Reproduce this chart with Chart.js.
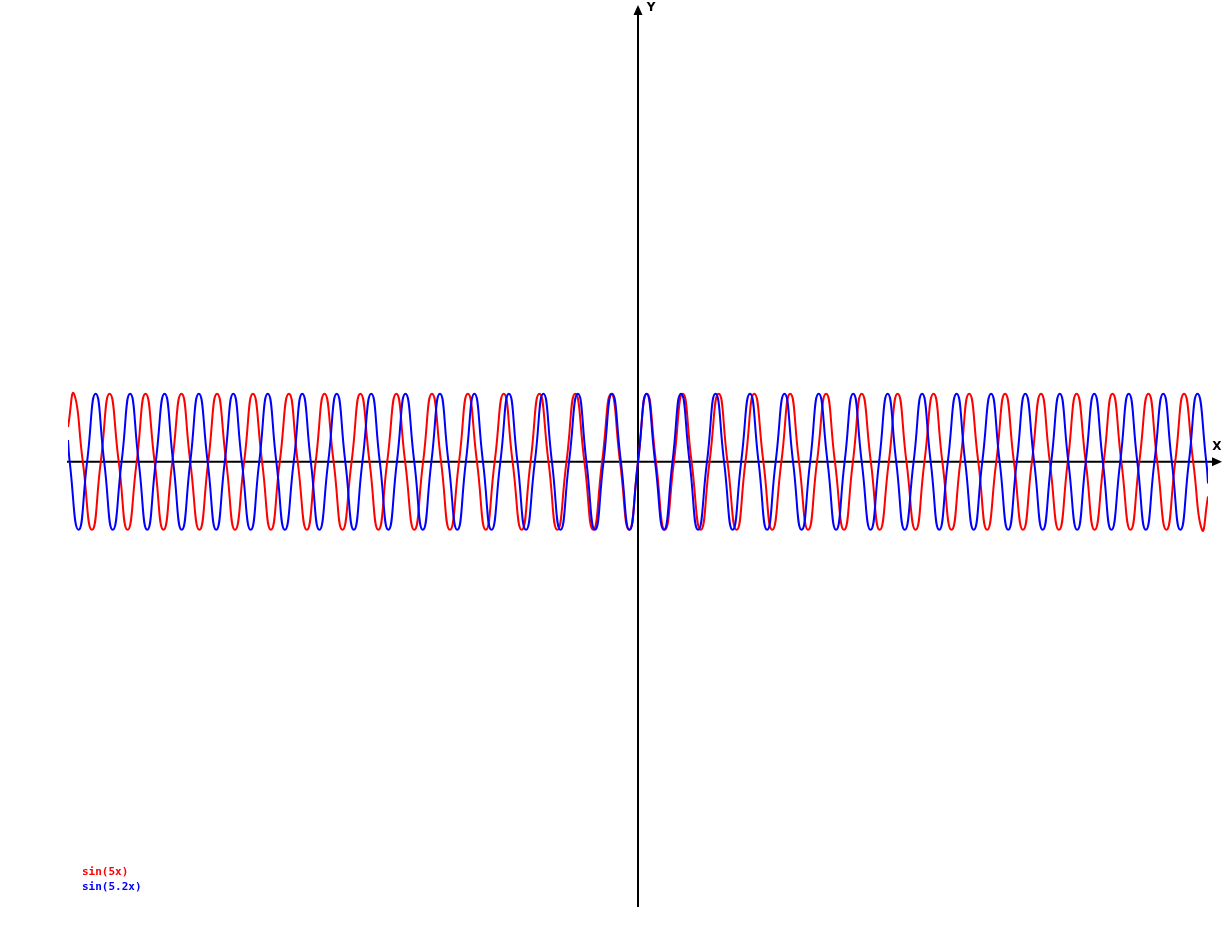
<!DOCTYPE html>
<html>
<head>
<meta charset="utf-8">
<script src="https://cdn.jsdelivr.net/npm/chart.js@4.4.1/dist/chart.umd.min.js"></script>
<style>
  body { margin: 0; background: #fff; }
  #wrap { width: 1230px; height: 927px; }
</style>
</head>
<body>
<div id="wrap"><canvas id="plot" width="1230" height="927"></canvas></div>
<script>
// sin(5x): quarter-period points (peaks, zeros, troughs) plus the two ends
const redX = [-20,
    -19.79, -19.48, -19.16, -18.85, -18.54, -18.22, -17.91, -17.59, -17.28, -16.96, -16.65, -16.34, -16.02, -15.71, -15.39, -15.08,
    -14.77, -14.45, -14.14, -13.82, -13.51, -13.19, -12.88, -12.57, -12.25, -11.94, -11.62, -11.31, -11.00, -10.68, -10.37, -10.05,
    -9.74, -9.42, -9.11, -8.80, -8.48, -8.17, -7.85, -7.54, -7.23, -6.91, -6.60, -6.28, -5.97, -5.65, -5.34, -5.03,
    -4.71, -4.40, -4.08, -3.77, -3.46, -3.14, -2.83, -2.51, -2.20, -1.88, -1.57, -1.26, -0.94, -0.63, -0.31,
    0,
    0.31, 0.63, 0.94, 1.26, 1.57, 1.88, 2.20, 2.51, 2.83, 3.14, 3.46, 3.77, 4.08, 4.40, 4.71,
    5.03, 5.34, 5.65, 5.97, 6.28, 6.60, 6.91, 7.23, 7.54, 7.85, 8.17, 8.48, 8.80, 9.11, 9.42, 9.74,
    10.05, 10.37, 10.68, 11.00, 11.31, 11.62, 11.94, 12.25, 12.57, 12.88, 13.19, 13.51, 13.82, 14.14, 14.45, 14.77,
    15.08, 15.39, 15.71, 16.02, 16.34, 16.65, 16.96, 17.28, 17.59, 17.91, 18.22, 18.54, 18.85, 19.16, 19.48, 19.79,
    20];
const redY = [0.51,
    1, 0, -1, 0, 1, 0, -1, 0, 1, 0, -1, 0, 1, 0, -1, 0,
    1, 0, -1, 0, 1, 0, -1, 0, 1, 0, -1, 0, 1, 0, -1, 0,
    1, 0, -1, 0, 1, 0, -1, 0, 1, 0, -1, 0, 1, 0, -1, 0,
    1, 0, -1, 0, 1, 0, -1, 0, 1, 0, -1, 0, 1, 0, -1, 0,
    1, 0, -1, 0, 1, 0, -1, 0, 1, 0, -1, 0, 1, 0, -1, 0,
    1, 0, -1, 0, 1, 0, -1, 0, 1, 0, -1, 0, 1, 0, -1, 0,
    1, 0, -1, 0, 1, 0, -1, 0, 1, 0, -1, 0, 1, 0, -1, 0,
    1, 0, -1, 0, 1, 0, -1, 0, 1, 0, -1, 0,
    1, 0, -1,
    -0.51];

// sin(5.2x)
const blueX = [-20,
    -19.94, -19.63, -19.33, -19.03, -18.73, -18.43, -18.12, -17.82, -17.52, -17.22, -16.92, -16.61, -16.31, -16.01, -15.71, -15.41,
    -15.10, -14.80, -14.50, -14.20, -13.90, -13.59, -13.29, -12.99, -12.69, -12.39, -12.08, -11.78, -11.48, -11.18, -10.87, -10.57,
    -10.27, -9.97, -9.67, -9.36, -9.06, -8.76, -8.46, -8.16, -7.85, -7.55, -7.25, -6.95, -6.65, -6.34, -6.04, -5.74,
    -5.44, -5.14, -4.83, -4.53, -4.23, -3.93, -3.62, -3.32, -3.02, -2.72, -2.42, -2.11, -1.81, -1.51, -1.21, -0.91,
    -0.60, -0.30,
    0,
    0.30, 0.60, 0.91, 1.21, 1.51, 1.81, 2.11, 2.42, 2.72, 3.02, 3.32, 3.62, 3.93, 4.23, 4.53, 4.83,
    5.14, 5.44, 5.74, 6.04, 6.34, 6.65, 6.95, 7.25, 7.55, 7.85, 8.16, 8.46, 8.76, 9.06, 9.36, 9.67,
    9.97, 10.27, 10.57, 10.87, 11.18, 11.48, 11.78, 12.08, 12.39, 12.69, 12.99, 13.29, 13.59, 13.90, 14.20, 14.50,
    14.80, 15.10, 15.41, 15.71, 16.01, 16.31, 16.61, 16.92, 17.22, 17.52, 17.82, 18.12, 18.43, 18.73, 19.03, 19.33,
    19.63, 19.94,
    20];
const blueY = [0.32,
    0, -1, 0, 1, 0, -1, 0, 1, 0, -1, 0, 1, 0, -1, 0, 1,
    0, -1, 0, 1, 0, -1, 0, 1, 0, -1, 0, 1, 0, -1, 0, 1,
    0, -1, 0, 1, 0, -1, 0, 1, 0, -1, 0, 1, 0, -1, 0, 1,
    0, -1, 0, 1, 0, -1, 0, 1, 0, -1, 0, 1, 0, -1, 0, 1,
    0, -1, 0, 1, 0, -1, 0, 1, 0, -1, 0, 1, 0, -1, 0, 1,
    0, -1, 0, 1, 0, -1, 0, 1, 0, -1, 0, 1, 0, -1, 0, 1,
    0, -1, 0, 1, 0, -1, 0, 1, 0, -1, 0, 1, 0, -1, 0, 1,
    0, -1, 0, 1, 0, -1, 0, 1, 0, -1, 0, 1, 0, -1, 0, 1,
    0, -1, 0, 1,
    0,
    -0.32];

const seriesLabels = ['sin(5x)', 'sin(5.2x)'];
const axisLabels = ['X', 'Y'];

function toPoints(xs, ys) {
    return xs.map((x, i) => ({ x: x, y: ys[i] }));
}

// hand drawn axes with arrow heads, like the original plotter
const axesPlugin = {
    id: 'axes',
    beforeDatasetsDraw(chart) {
        const ctx = chart.ctx;
        const area = chart.chartArea;
        const x0 = chart.scales.x.getPixelForValue(0);
        const y0 = chart.scales.y.getPixelForValue(0);
        ctx.save();
        ctx.strokeStyle = '#000';
        ctx.fillStyle = '#000';
        ctx.lineWidth = 2;

        // x axis
        ctx.beginPath();
        ctx.moveTo(area.left - 1, y0);
        ctx.lineTo(area.right + 6, y0);
        ctx.stroke();
        ctx.beginPath();
        ctx.moveTo(area.right + 14, y0);
        ctx.lineTo(area.right + 4, y0 - 4.5);
        ctx.lineTo(area.right + 4, y0 + 4.5);
        ctx.closePath();
        ctx.fill();

        // y axis
        ctx.beginPath();
        ctx.moveTo(x0, area.bottom);
        ctx.lineTo(x0, area.top + 8);
        ctx.stroke();
        ctx.beginPath();
        ctx.moveTo(x0, area.top);
        ctx.lineTo(x0 - 4.5, area.top + 10);
        ctx.lineTo(x0 + 4.5, area.top + 10);
        ctx.closePath();
        ctx.fill();

        ctx.font = 'bold 12px "DejaVu Sans"';
        ctx.textAlign = 'center';
        ctx.textBaseline = 'middle';
        ctx.fillText(axisLabels[0], area.right + 9, y0 - 15);
        ctx.fillText(axisLabels[1], x0 + 13, area.top + 3);
        ctx.restore();
    },
    afterDraw(chart) {
        // plain coloured text legend, bottom left
        const ctx = chart.ctx;
        ctx.save();
        ctx.font = 'bold 11px "DejaVu Sans Mono"';
        ctx.textAlign = 'left';
        ctx.textBaseline = 'middle';
        chart.data.datasets.forEach((ds, i) => {
            ctx.fillStyle = ds.borderColor;
            ctx.fillText(ds.label, 82, 872 + i * 15);
        });
        ctx.restore();
    }
};

new Chart(document.getElementById('plot'), {
    type: 'scatter',
    data: {
        datasets: [{
            label: seriesLabels[0],
            data: toPoints(redX, redY),
            showLine: true,
            borderColor: '#ff0000',
            borderWidth: 2,
            pointRadius: 0,
            tension: 0.55,
            order: 1
        }, {
            label: seriesLabels[1],
            data: toPoints(blueX, blueY),
            showLine: true,
            borderColor: '#0000ff',
            borderWidth: 2,
            pointRadius: 0,
            tension: 0.55,
            order: 0
        }]
    },
    options: {
        responsive: false,
        animation: false,
        layout: { padding: { left: 68, right: 22, top: 5, bottom: 20 } },
        scales: {
            x: { type: 'linear', min: -20, max: 20, display: false },
            y: { type: 'linear', min: -6.55, max: 6.72, display: false }
        },
        plugins: {
            legend: { display: false },
            tooltip: { enabled: false }
        }
    },
    plugins: [axesPlugin]
});
</script>
</body>
</html>
